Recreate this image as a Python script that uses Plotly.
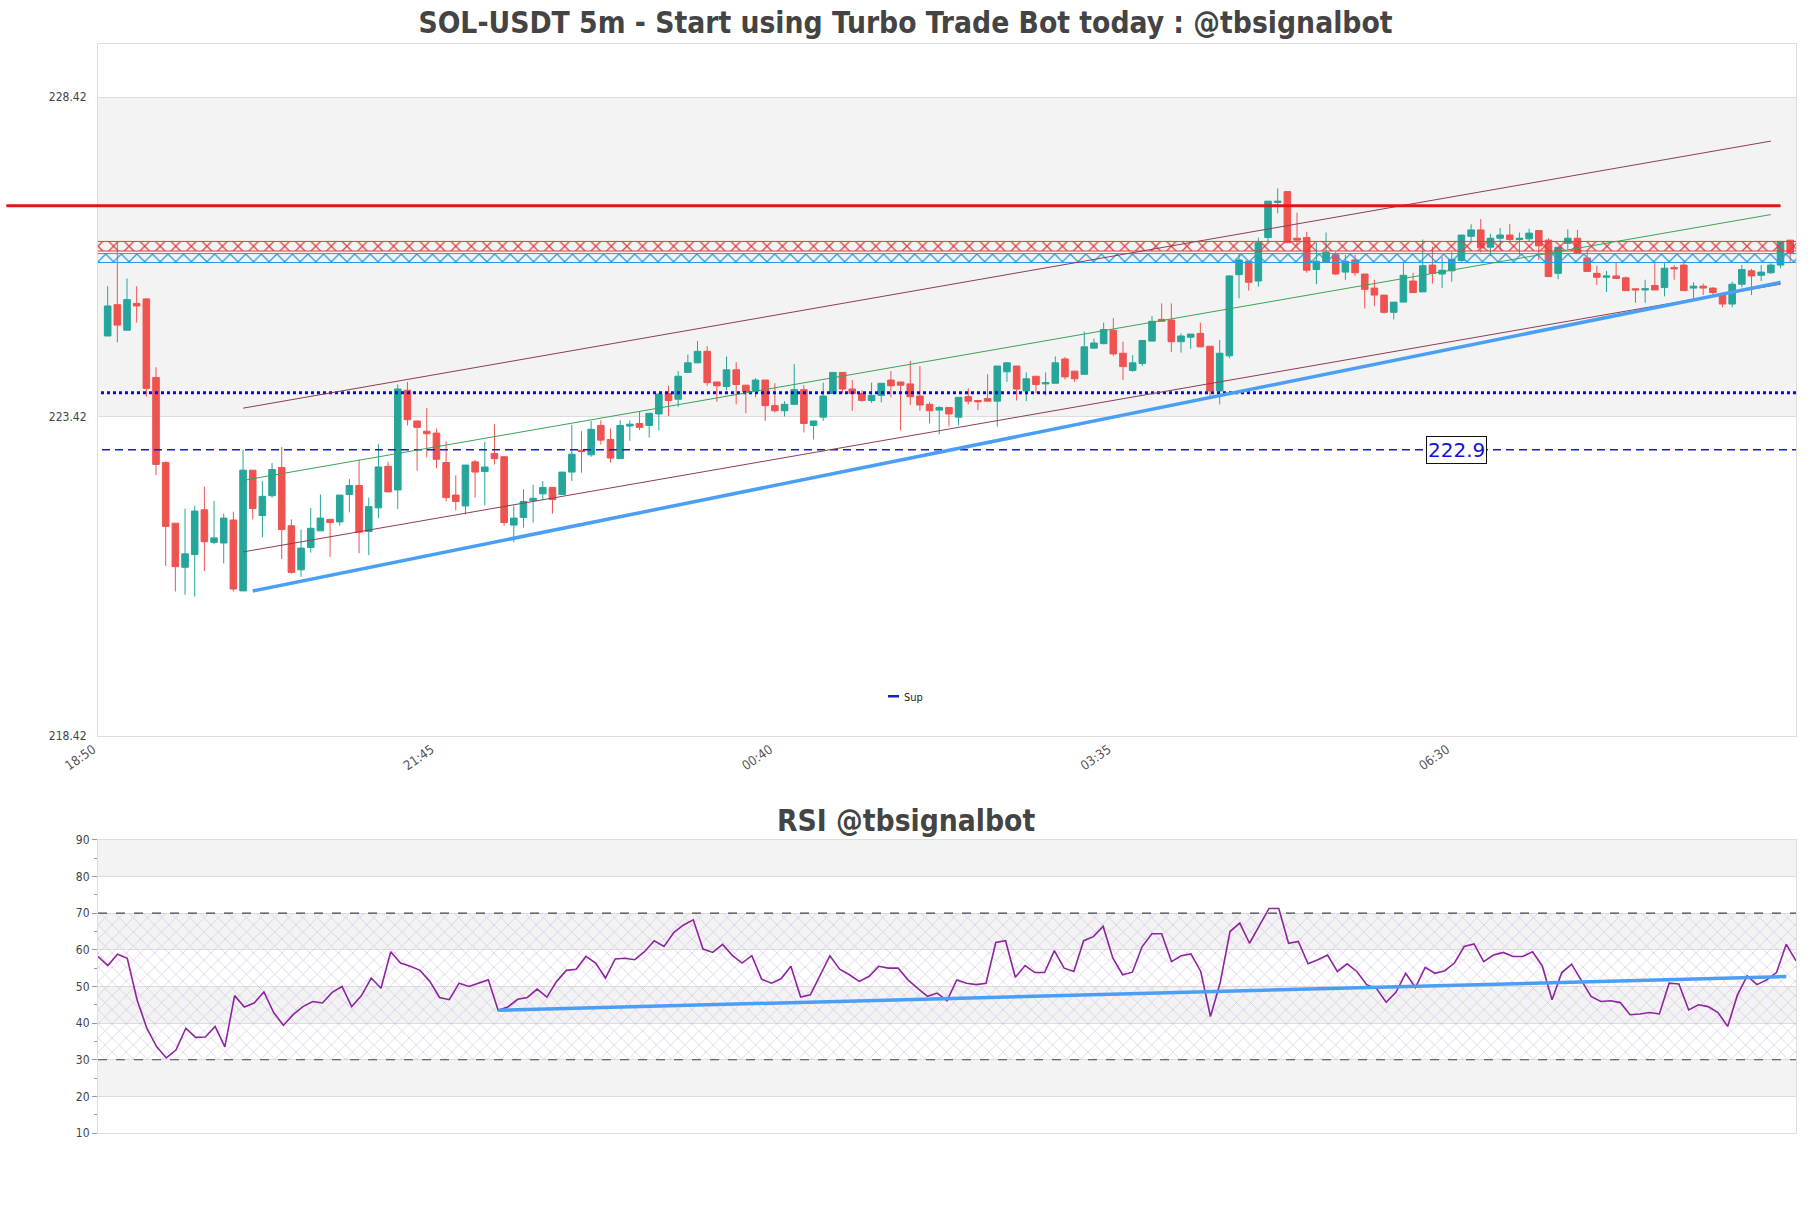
import pandas as pd
import plotly.graph_objects as go

# candles, 5m, first one at 18:55
opens = [224.68, 225.17, 224.77, 225.19, 225.26, 224.03, 222.70, 221.75, 221.06, 221.26,
         221.96, 221.45, 221.44, 221.80, 220.69, 222.58, 221.87, 222.18, 222.62, 221.71,
         221.02, 221.37, 221.63, 221.81, 221.77, 222.20, 222.34, 221.62, 221.99, 222.64,
         222.27, 223.83, 223.35, 223.19, 223.16, 222.70, 222.19, 222.02, 222.71, 222.56,
         222.84, 222.79, 221.72, 221.84, 222.10, 222.21, 222.31, 222.20, 222.55, 222.89,
         222.82, 223.28, 223.06, 222.76, 223.27, 223.31, 223.28, 223.46, 223.78, 223.69,
         224.11, 224.26, 224.44, 223.96, 223.89, 224.15, 223.91, 223.82, 223.99, 223.59,
         223.51, 223.61, 223.84, 223.28, 223.41, 223.78, 224.11, 223.85, 223.78, 223.67,
         223.75, 223.99, 223.96, 223.93, 223.74, 223.61, 223.52, 223.56, 223.41, 223.73,
         223.67, 223.70, 223.66, 224.12, 224.21, 223.82, 224.05, 223.93, 223.94, 224.32,
         224.13, 224.08, 224.49, 224.56, 224.77, 224.41, 224.14, 224.25, 224.60, 224.94,
         224.93, 224.59, 224.66, 224.72, 224.52, 223.82, 224.37, 225.64, 225.85, 225.54,
         226.22, 226.77, 226.94, 226.21, 226.22, 225.72, 225.83, 225.95, 225.68, 225.87,
         225.65, 225.43, 225.32, 225.05, 225.21, 225.54, 225.37, 225.79, 225.65, 225.70,
         225.86, 226.24, 226.34, 226.07, 226.21, 226.26, 226.19, 226.20, 226.33, 226.18,
         225.66, 226.13, 226.21, 225.90, 225.66, 225.60, 225.62, 225.59, 225.42, 225.40,
         225.47, 225.44, 225.75, 225.79, 225.43, 225.46, 225.43, 225.32, 225.18, 225.49,
         225.70, 225.63, 225.67, 225.79, 226.18]
highs = [225.46, 226.15, 225.58, 225.46, 225.27, 224.19, 222.72, 221.75, 221.98, 222.02,
         222.32, 222.10, 221.90, 221.93, 222.90, 222.58, 222.41, 222.69, 222.94, 221.81,
         221.65, 221.99, 222.20, 221.81, 222.19, 222.44, 222.74, 222.15, 222.99, 222.71,
         223.92, 223.96, 223.35, 223.55, 223.23, 223.03, 222.50, 222.66, 222.74, 223.02,
         223.30, 222.80, 222.03, 222.28, 222.35, 222.41, 222.31, 222.55, 223.29, 223.19,
         223.35, 223.36, 223.23, 223.36, 223.36, 223.49, 223.47, 223.77, 223.90, 224.13,
         224.39, 224.60, 224.52, 223.96, 224.36, 224.27, 223.91, 224.02, 223.99, 223.94,
         223.66, 224.24, 223.91, 223.35, 223.95, 224.11, 224.11, 223.99, 223.83, 223.95,
         223.94, 224.13, 223.96, 224.29, 224.21, 223.65, 223.58, 223.56, 223.72, 223.86,
         223.67, 224.08, 224.21, 224.27, 224.21, 224.11, 224.05, 224.11, 224.36, 224.35,
         224.13, 224.75, 224.64, 224.89, 224.96, 224.59, 224.38, 224.61, 224.99, 225.19,
         225.19, 224.72, 224.71, 224.89, 224.52, 224.62, 225.63, 225.98, 225.85, 226.22,
         226.79, 226.99, 226.94, 226.61, 226.31, 226.14, 226.30, 226.00, 225.95, 225.95,
         225.65, 225.56, 225.32, 225.21, 225.84, 225.67, 226.19, 226.08, 225.92, 225.99,
         226.26, 226.43, 226.51, 226.28, 226.37, 226.43, 226.30, 226.36, 226.33, 226.21,
         226.07, 226.35, 226.34, 226.02, 225.78, 225.70, 225.83, 225.61, 225.42, 225.56,
         225.84, 225.82, 225.79, 225.87, 225.52, 225.50, 225.44, 225.35, 225.53, 225.79,
         225.73, 225.79, 225.82, 226.16, 226.18]
lows = [224.68, 224.58, 224.77, 224.89, 223.73, 222.50, 221.08, 220.68, 220.63, 220.60,
        221.00, 221.42, 221.12, 220.68, 220.69, 221.81, 221.53, 222.15, 221.19, 220.96,
        220.91, 221.29, 221.63, 221.22, 221.71, 221.92, 221.28, 221.25, 221.83, 222.24,
        221.97, 223.28, 222.57, 222.78, 222.61, 222.09, 221.95, 221.89, 222.15, 222.03,
        222.67, 221.71, 221.45, 221.68, 221.76, 222.11, 221.90, 222.20, 222.41, 222.54,
        222.79, 222.98, 222.70, 222.76, 223.04, 223.21, 223.09, 223.20, 223.43, 223.57,
        224.10, 224.25, 223.90, 223.65, 223.83, 223.61, 223.47, 223.72, 223.35, 223.48,
        223.42, 223.61, 223.17, 223.06, 223.35, 223.78, 223.78, 223.51, 223.65, 223.63,
        223.64, 223.72, 223.20, 223.60, 223.51, 223.31, 223.14, 223.26, 223.28, 223.61,
        223.52, 223.65, 223.26, 223.96, 223.67, 223.66, 223.79, 223.75, 223.94, 224.00,
        223.96, 224.08, 224.49, 224.55, 224.37, 223.99, 224.12, 224.21, 224.60, 224.91,
        224.43, 224.42, 224.48, 224.51, 223.72, 223.61, 224.33, 225.27, 225.39, 225.45,
        226.15, 226.60, 226.14, 226.10, 225.67, 225.49, 225.83, 225.63, 225.56, 225.62,
        225.11, 225.15, 225.03, 224.94, 225.21, 225.36, 225.37, 225.50, 225.43, 225.53,
        225.84, 226.16, 225.99, 225.93, 226.02, 226.14, 225.95, 226.16, 225.87, 225.61,
        225.57, 226.03, 225.97, 225.69, 225.48, 225.37, 225.58, 225.39, 225.20, 225.20,
        225.40, 225.30, 225.56, 225.39, 225.27, 225.32, 225.31, 225.13, 225.13, 225.44,
        225.32, 225.54, 225.65, 225.74, 225.84]
closes = [225.15, 224.85, 225.25, 225.15, 223.86, 222.67, 221.70, 221.07, 221.27, 221.94,
          221.46, 221.52, 221.83, 220.72, 222.58, 221.98, 222.17, 222.59, 221.65, 220.98,
          221.36, 221.67, 221.83, 221.76, 222.19, 222.34, 221.61, 222.01, 222.63, 222.24,
          223.85, 223.37, 223.25, 223.15, 222.75, 222.15, 222.09, 222.66, 222.55, 222.63,
          222.76, 221.76, 221.83, 222.09, 222.14, 222.31, 222.12, 222.55, 222.83, 222.87,
          223.22, 223.05, 222.77, 223.28, 223.30, 223.25, 223.47, 223.77, 223.67, 224.05,
          224.26, 224.44, 223.95, 223.90, 224.15, 223.92, 223.81, 223.99, 223.59, 223.51,
          223.61, 223.84, 223.31, 223.35, 223.74, 224.11, 223.85, 223.78, 223.67, 223.75,
          223.94, 223.90, 223.91, 223.73, 223.60, 223.51, 223.56, 223.46, 223.72, 223.66,
          223.65, 223.66, 224.21, 224.26, 223.85, 224.01, 223.92, 223.95, 224.26, 224.04,
          224.01, 224.51, 224.57, 224.78, 224.40, 224.20, 224.26, 224.61, 224.91, 224.91,
          224.59, 224.68, 224.71, 224.51, 223.82, 224.41, 225.62, 225.87, 225.52, 226.14,
          226.79, 226.79, 226.14, 226.18, 225.71, 225.85, 225.99, 225.65, 225.85, 225.67,
          225.41, 225.32, 225.05, 225.21, 225.63, 225.36, 225.78, 225.66, 225.71, 225.88,
          226.26, 226.34, 226.06, 226.21, 226.26, 226.19, 226.21, 226.29, 226.09, 225.61,
          226.07, 226.21, 225.97, 225.69, 225.60, 225.62, 225.58, 225.39, 225.40, 225.42,
          225.40, 225.74, 225.73, 225.39, 225.46, 225.43, 225.36, 225.18, 225.49, 225.72,
          225.62, 225.68, 225.79, 226.16, 225.97]
rsi = [58.2, 55.7, 58.8, 57.7, 46.4, 38.6, 33.6, 30.5, 32.7, 38.6,
       36.1, 36.2, 39.1, 33.5, 47.5, 44.4, 45.5, 48.5, 42.9, 39.4,
       42.3, 44.5, 45.9, 45.5, 48.4, 50.0, 44.5, 47.5, 52.3, 49.5,
       59.5, 56.4, 55.5, 54.4, 51.4, 47.0, 46.4, 50.9, 50.0, 50.9,
       51.8, 43.5, 44.4, 46.5, 47.0, 49.3, 47.1, 51.4, 54.4, 54.7,
       58.2, 56.4, 52.3, 57.5, 57.7, 57.3, 59.5, 62.5, 60.9, 64.7,
       66.8, 68.2, 60.2, 59.3, 61.5, 58.5, 56.4, 58.4, 52.0, 50.9,
       52.1, 55.5, 47.1, 47.7, 53.2, 58.4, 54.7, 53.2, 51.4, 52.7,
       55.5, 55.0, 55.0, 51.8, 49.5, 47.3, 48.2, 46.1, 51.8, 50.9,
       50.5, 50.9, 62.0, 62.5, 52.5, 55.7, 53.8, 53.8, 59.8, 55.0,
       54.1, 62.5, 63.6, 66.4, 57.7, 53.2, 53.9, 60.9, 64.4, 64.4,
       56.8, 58.4, 58.9, 54.1, 41.8, 51.1, 65.0, 67.3, 61.8, 66.4,
       71.3, 71.3, 61.8, 62.3, 56.2, 57.3, 58.6, 54.1, 56.2, 54.1,
       50.5, 49.5, 45.7, 48.4, 53.6, 49.7, 55.2, 53.6, 54.3, 56.4,
       60.9, 61.6, 56.8, 58.6, 59.3, 58.2, 58.2, 59.5, 55.6, 46.4,
       53.8, 56.1, 51.8, 47.3, 45.9, 46.1, 45.6, 42.3, 42.5, 42.9,
       42.5, 50.9, 50.7, 43.6, 45.0, 44.5, 42.9, 39.1, 47.7, 52.9,
       50.5, 51.8, 53.8, 61.5, 57.0]

x_tick_labels = ["18:50", "21:45", "00:40", "03:35", "06:30"]
y_tick_values = [218.42, 223.42, 228.42]

resistance = 226.72
sell_zone = [226.01, 226.16]
buy_zone = [225.83, 225.97]
pivot = 223.79
support = 222.9

# line endpoints: candle index (0 = first candle) and value
trend_idx, trend_val = [15, 173], [220.69, 225.52]
upper_idx, upper_val = [14, 172], [223.55, 227.73]
mid_idx, mid_val = [14, 172], [222.42, 226.58]
lower_idx, lower_val = [14, 173], [221.30, 225.49]
rsi_trend_idx, rsi_trend_val = [41, 173], [43.5, 52.7]

FONT = "DejaVu Sans Condensed, DejaVu Sans, sans-serif"
UP, DOWN = "#26a69a", "#ef5350"

t0 = pd.Timestamp("2024-12-05 18:55")
times = pd.date_range(t0, periods=len(closes), freq="5min")


def at(k):
    return t0 + pd.Timedelta(minutes=5 * k)


x_range = [at(-1), at(174.6)]
far = [at(-10), at(185)]

fig = go.Figure()

# zones (hatched)
for lo_hi, col in [(sell_zone, "#e23c42"), (buy_zone, "#2a9be0")]:
    fig.add_trace(go.Scatter(
        x=[far[0], far[1], far[1], far[0], far[0]],
        y=[lo_hi[0], lo_hi[0], lo_hi[1], lo_hi[1], lo_hi[0]],
        mode="lines", fill="toself", fillcolor="rgba(0,0,0,0)",
        fillpattern=dict(shape="x", fgcolor=col, fgopacity=1, bgcolor="rgba(0,0,0,0)",
                         size=11, solidity=0.22),
        line=dict(color=col, width=1), hoverinfo="skip", showlegend=False))

fig.add_trace(go.Scatter(x=far, y=[pivot, pivot], mode="lines",
                         line=dict(color="#0a0acc", width=3, dash="dot"),
                         hoverinfo="skip", showlegend=False))
fig.add_trace(go.Scatter(x=far, y=[support, support], mode="lines", showlegend=False,
                         line=dict(color="#1a1ac8", width=1.5, dash="8px,5px")))
# legend entry for the support line
fig.add_trace(go.Scatter(x=[None], y=[None], mode="lines", name="Sup",
                         line=dict(color="#1a1ac8", width=2.5, dash="0px,19px,11px,100px")))

for idx, val, col, w in [(upper_idx, upper_val, "#8e3d52", 1),
                         (lower_idx, lower_val, "#8e3d52", 1),
                         (mid_idx, mid_val, "#3aa35a", 1),
                         (trend_idx, trend_val, "#4a9ff5", 3.5)]:
    fig.add_trace(go.Scatter(x=[at(k) for k in idx], y=val, mode="lines",
                             line=dict(color=col, width=w), hoverinfo="skip", showlegend=False))

fig.add_trace(go.Candlestick(
    x=times, open=opens, high=highs, low=lows, close=closes,
    increasing=dict(line=dict(color=UP, width=1), fillcolor=UP),
    decreasing=dict(line=dict(color=DOWN, width=1), fillcolor=DOWN),
    showlegend=False))

# RSI panel
fig.add_trace(go.Scatter(
    x=[times[0], times[-1], times[-1], times[0], times[0]], y=[30, 30, 70, 70, 30],
    xaxis="x2", yaxis="y2", mode="lines", fill="toself", fillcolor="rgba(0,0,0,0)",
    fillpattern=dict(shape="x", fgcolor="#c8b2de", fgopacity=1, bgcolor="rgba(0,0,0,0)",
                     size=10, solidity=0.1),
    line=dict(width=0), hoverinfo="skip", showlegend=False))
fig.add_trace(go.Scatter(x=times, y=rsi, xaxis="x2", yaxis="y2", mode="lines",
                         line=dict(color="#8e24a0", width=1.6), showlegend=False))
fig.add_trace(go.Scatter(x=[times[k] for k in rsi_trend_idx], y=rsi_trend_val,
                         xaxis="x2", yaxis="y2", mode="lines",
                         line=dict(color="#4a9ff5", width=3.5), hoverinfo="skip", showlegend=False))

shapes = [dict(type="rect", xref="x domain", yref="y", x0=0, x1=1,
               y0=y_tick_values[1], y1=y_tick_values[2],
               fillcolor="#f3f3f3", line_width=0, layer="below")]
for lo in [20, 40, 60, 80]:
    shapes.append(dict(type="rect", xref="x2 domain", yref="y2", x0=0, x1=1, y0=lo, y1=lo + 10,
                       fillcolor="#f3f3f4", line_width=0, layer="below"))
for lvl in [30, 70]:
    shapes.append(dict(type="line", xref="x2 domain", yref="y2", x0=0, x1=1, y0=lvl, y1=lvl,
                       line=dict(color="#444", width=1.2, dash="dash")))
span = (x_range[1] - x_range[0])
shapes.append(dict(type="line", xref="paper", yref="y", x0=-0.054,
                   x1=(at(173) - x_range[0]) / span, y0=resistance, y1=resistance,
                   line=dict(color="#e31414", width=3)))

tick_times = [pd.Timestamp("2024-12-05 " + s) if s > "12" else pd.Timestamp("2024-12-06 " + s)
              for s in x_tick_labels]

fig.update_layout(
    width=1811, height=1208,
    margin=dict(l=98, r=15, t=44, b=75),
    paper_bgcolor="white", plot_bgcolor="white",
    font=dict(family=FONT, color="#444"),
    boxgap=0.15, boxgroupgap=0.2,
    title=dict(text="<b>SOL-USDT 5m - Start using Turbo Trade Bot today : @tbsignalbot</b>",
               x=0.5, xanchor="center", y=1 - 23 / 1208, yanchor="middle",
               font=dict(family=FONT, size=29.7, color="#444")),
    showlegend=True,
    legend=dict(x=0.470, y=0.401, xanchor="center", yanchor="middle",
                bgcolor="rgba(0,0,0,0)", font=dict(size=11, color="#222")),
    xaxis=dict(domain=[0, 1], anchor="y", type="date", range=x_range,
               rangeslider=dict(visible=False), tickvals=tick_times, ticktext=x_tick_labels,
               tickangle=-35, ticklabelshift=-5, showgrid=False, showline=True, mirror=True,
               linecolor="#ddd", tickfont=dict(size=13, color="#555")),
    yaxis=dict(domain=[0.3646, 1], anchor="x", range=[218.42, 229.25],
               tickvals=y_tick_values, ticktext=[f"{v:.2f}" for v in y_tick_values],
               gridcolor="#ddd", showline=True, mirror=True, linecolor="#ddd", zeroline=False,
               ticklabelstandoff=8, tickfont=dict(size=12, color="#444")),
    xaxis2=dict(domain=[0, 1], anchor="y2", type="date", range=[times[0], times[-1]],
                showticklabels=False, showgrid=False, showline=True, mirror=True, linecolor="#ddd"),
    yaxis2=dict(domain=[0, 0.2691], anchor="x2", range=[10, 90], dtick=10,
                ticks="outside", ticklen=5, tickcolor="#999",
                minor=dict(ticks="outside", ticklen=3, dtick=5, tickcolor="#999", showgrid=False),
                gridcolor="#ddd", showline=True, mirror=True, linecolor="#ddd", zeroline=False,
                tickfont=dict(size=12, color="#444")),
    shapes=shapes,
    annotations=[
        dict(text="<b>RSI @tbsignalbot</b>", xref="paper", yref="paper", x=0.476, y=0.2874,
             xanchor="center", yanchor="middle", showarrow=False,
             font=dict(family=FONT, size=29.7, color="#444")),
        dict(text=f"{support}", xref="paper", yref="y", x=0.8, y=support, showarrow=False,
             xanchor="center", yanchor="middle",
             font=dict(family="DejaVu Sans", size=20, color="#1010d8"),
             bgcolor="white", bordercolor="#111", borderwidth=1, borderpad=1),
    ],
)

fig.write_html("out.html", config={"displayModeBar": False},
               post_script="document.body.style.margin='0';document.body.style.overflow='hidden';")
